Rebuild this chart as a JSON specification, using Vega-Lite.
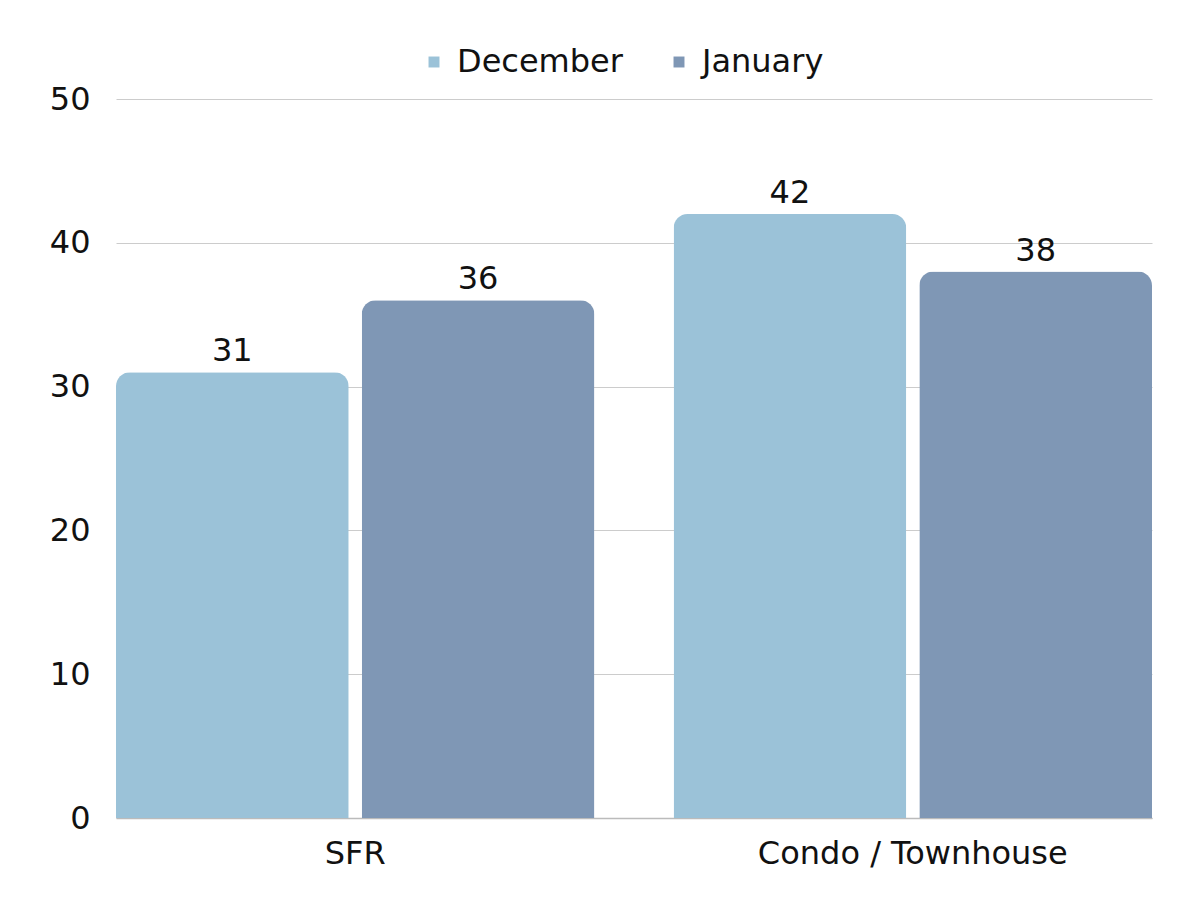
{
  "$schema": "https://vega.github.io/schema/vega-lite/v6.json",
  "autosize": {"type": "none"},
  "width": 1036,
  "height": 719,
  "padding": {"left": 116, "top": 99, "right": 48, "bottom": 82},
  "background": "white",
  "data": {"values": [
    {"type": "SFR", "month": "December", "value": 31},
    {"type": "SFR", "month": "January", "value": 36},
    {"type": "Condo / Townhouse", "month": "December", "value": 42},
    {"type": "Condo / Townhouse", "month": "January", "value": 38}
  ]},
  "encoding": {
    "x": {"field": "type", "type": "nominal", "sort": ["SFR", "Condo / Townhouse"],
      "scale": {"paddingInner": 0.142, "paddingOuter": 0},
      "axis": {"title": null, "labelAngle": 0, "ticks": false, "domain": true, "domainColor": "#bbbbbb", "domainWidth": 1.5, "labelFontSize": 32, "labelColor": "#111111", "labelPadding": 20, "labelFont": "DejaVu Sans", "labelLimit": 0, "grid": false}},
    "xOffset": {"field": "month", "type": "nominal", "sort": ["December", "January"], "scale": {"paddingInner": 0.053, "paddingOuter": 0}},
    "y": {"field": "value", "type": "quantitative",
      "scale": {"domain": [0, 50]},
      "axis": {"title": null, "values": [0, 10, 20, 30, 40, 50], "labelOverlap": false, "domain": false, "ticks": false, "grid": true, "gridColor": "#cccccc", "gridWidth": 1, "labelFontSize": 32, "labelColor": "#111111", "labelPadding": 26, "labelFont": "DejaVu Sans"}}
  },
  "layer": [
    {
      "mark": {"type": "bar", "cornerRadiusTopLeft": 14, "cornerRadiusTopRight": 14},
      "encoding": {
        "color": {"field": "month", "type": "nominal", "sort": ["December", "January"],
          "scale": {"domain": ["December", "January"], "range": ["#9bc2d8", "#7f97b5"]},
          "legend": {"title": null, "orient": "none", "direction": "horizontal", "legendX": 302, "legendY": -53, "symbolType": "square", "symbolSize": 120, "labelFontSize": 32, "labelFont": "DejaVu Sans", "labelColor": "#111111", "labelLimit": 0, "columnPadding": 40, "labelOffset": 7}}
      }
    },
    {
      "mark": {"type": "text", "baseline": "bottom", "dy": -4, "fontSize": 32, "font": "DejaVu Sans", "color": "#111111"},
      "encoding": {"text": {"field": "value", "type": "quantitative"}}
    }
  ],
  "config": {"view": {"stroke": null}}
}
